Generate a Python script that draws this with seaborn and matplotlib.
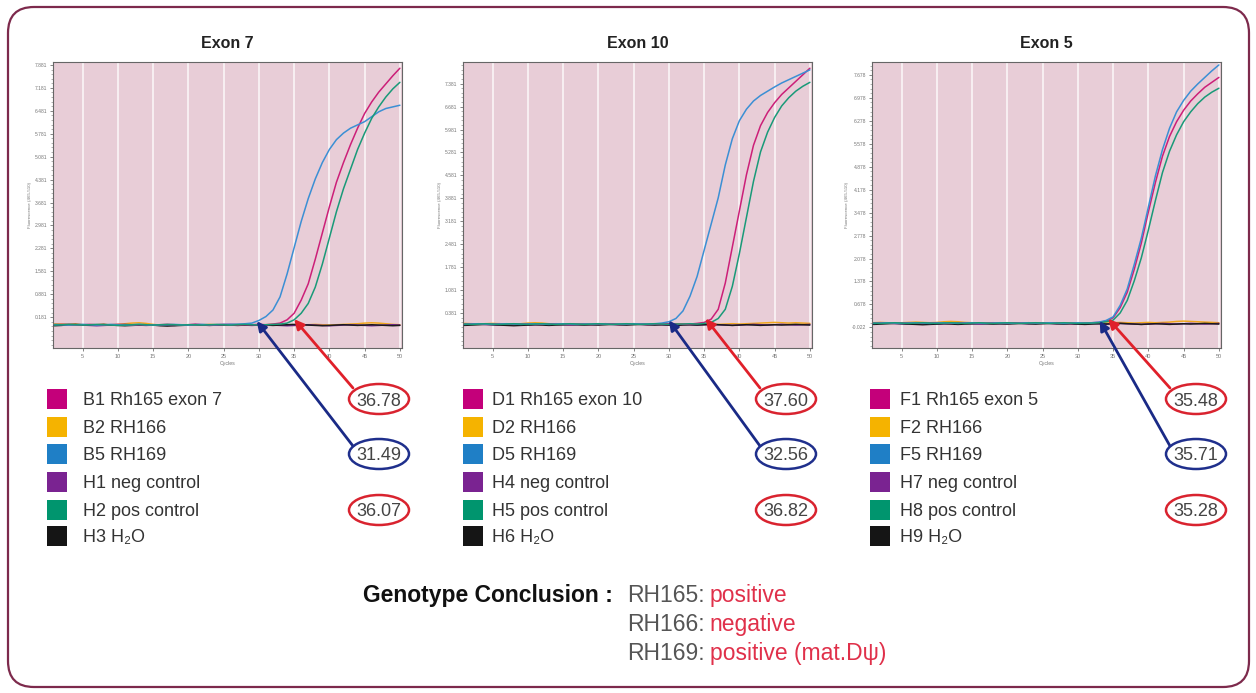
import numpy as np
import pandas as pd
import matplotlib
matplotlib.use("Agg")
import matplotlib.pyplot as plt
import seaborn as sns
from matplotlib.patches import Ellipse, FancyBboxPatch, Rectangle
from matplotlib.transforms import IdentityTransform
from matplotlib.ticker import AutoMinorLocator

# ---- data ----
cycles = list(range(1, 51))

# Exon 7
e7_b1 = [-0.05, -0.04, -0.05, -0.06, -0.05, -0.04, -0.05, -0.06, -0.05, -0.04, -0.05, -0.06, -0.05, -0.05,
         -0.06, -0.05, -0.04, -0.05, -0.06, -0.05, -0.04, -0.05, -0.06, -0.05, -0.04, -0.05, -0.06, -0.05,
         -0.05, -0.04, -0.05, -0.03,
         0.0, 0.1, 0.3, 0.7, 1.2, 1.95, 2.75, 3.55, 4.3, 4.9, 5.45, 5.95, 6.4, 6.75, 7.05, 7.3, 7.55, 7.78]
e7_b2 = [-0.02, -0.03, -0.04, -0.03, -0.05, -0.06, -0.05, -0.04, -0.05, -0.04, -0.02, 0.0, 0.01, -0.01,
         -0.04, -0.06, -0.07, -0.06, -0.05, -0.05, -0.06, -0.05, -0.04, -0.05, -0.06, -0.05, -0.04, -0.05,
         -0.06, -0.05, -0.05, -0.04, -0.05, -0.06, -0.07, -0.06, -0.05, -0.04, -0.05, -0.06, -0.05, -0.04,
         -0.03, -0.02, 0.0, 0.01, 0.0, -0.02, -0.04, -0.05]
e7_b5 = [-0.04, -0.05, -0.06, -0.05, -0.04, -0.05, -0.06, -0.05, -0.04, -0.05, -0.06, -0.05, -0.04, -0.05,
         -0.06, -0.05, -0.05, -0.04, -0.05, -0.06, -0.05, -0.04, -0.05, -0.05, -0.04, -0.04, -0.03, -0.02,
         0.0, 0.08, 0.2, 0.4, 0.8, 1.5, 2.3, 3.1, 3.8, 4.4, 4.9, 5.3, 5.6, 5.8, 5.95, 6.05, 6.15, 6.3,
         6.45, 6.55, 6.6, 6.65]
e7_h1 = [-0.06, -0.05, -0.04, -0.05, -0.06, -0.07, -0.08, -0.07, -0.06, -0.05, -0.04, -0.05, -0.06, -0.07,
         -0.06, -0.05, -0.06, -0.07, -0.06, -0.05, -0.04, -0.05, -0.05, -0.06, -0.05, -0.04, -0.05, -0.06,
         -0.07, -0.06, -0.05, -0.06, -0.07, -0.08, -0.07, -0.06, -0.05, -0.06, -0.07, -0.08, -0.07, -0.06,
         -0.05, -0.06, -0.07, -0.08, -0.07, -0.06, -0.05, -0.06]
e7_h2 = [-0.06, -0.05, -0.04, -0.05, -0.06, -0.05, -0.04, -0.05, -0.06, -0.07, -0.06, -0.05, -0.04, -0.05,
         -0.06, -0.05, -0.04, -0.05, -0.06, -0.05, -0.05, -0.06, -0.05, -0.04, -0.05, -0.06, -0.05, -0.04,
         -0.05, -0.06, -0.05, -0.04, -0.03,
         0.0, 0.1, 0.3, 0.6, 1.1, 1.8, 2.6, 3.4, 4.1, 4.7, 5.3, 5.8, 6.25, 6.6, 6.9, 7.15, 7.35]
e7_h3 = [-0.08, -0.07, -0.05, -0.04, -0.05, -0.06, -0.05, -0.04, -0.06, -0.07, -0.08, -0.07, -0.06, -0.05,
         -0.06, -0.08, -0.09, -0.08, -0.07, -0.06, -0.05, -0.06, -0.07, -0.06, -0.05, -0.06, -0.07, -0.06,
         -0.05, -0.05, -0.06, -0.07, -0.06, -0.05, -0.04, -0.05, -0.06, -0.07, -0.08, -0.07, -0.06, -0.05,
         -0.06, -0.07, -0.06, -0.05, -0.06, -0.07, -0.08, -0.07]

# Exon 10
e10_d1 = [0.05, 0.06, 0.05, 0.04, 0.05, 0.06, 0.05, 0.04, 0.05, 0.06, 0.05, 0.04, 0.05, 0.06, 0.05, 0.04,
          0.05, 0.05, 0.04, 0.05, 0.06, 0.05, 0.04, 0.05, 0.06, 0.05, 0.04, 0.05, 0.05, 0.06, 0.05, 0.04,
          0.05, 0.07,
          0.1, 0.2, 0.5, 1.3, 2.4, 3.5, 4.6, 5.5, 6.1, 6.5, 6.8, 7.05, 7.25, 7.45, 7.65, 7.85]
e10_d2 = [0.07, 0.06, 0.05, 0.06, 0.07, 0.06, 0.05, 0.04, 0.06, 0.08, 0.09, 0.08, 0.06, 0.05, 0.04, 0.03,
          0.04, 0.05, 0.04, 0.05, 0.06, 0.05, 0.04, 0.05, 0.06, 0.05, 0.04, 0.05, 0.04, 0.05, 0.06, 0.05,
          0.04, 0.05, 0.06, 0.05, 0.04, 0.05, 0.06, 0.05, 0.06, 0.07, 0.08, 0.09, 0.1, 0.09, 0.08, 0.09,
          0.08, 0.07]
e10_d5 = [0.04, 0.05, 0.06, 0.05, 0.04, 0.05, 0.06, 0.05, 0.04, 0.05, 0.06, 0.05, 0.04, 0.05, 0.06, 0.05,
          0.04, 0.05, 0.05, 0.06, 0.05, 0.04, 0.05, 0.05, 0.06, 0.05, 0.05, 0.06,
          0.08, 0.12, 0.22, 0.45, 0.9, 1.5, 2.3, 3.1, 3.9, 4.9, 5.7, 6.25, 6.6, 6.85, 7.02, 7.15, 7.28,
          7.4, 7.5, 7.6, 7.7, 7.8]
e10_h4 = [0.03, 0.04, 0.05, 0.04, 0.03, 0.02, 0.03, 0.04, 0.03, 0.02, 0.03, 0.04, 0.05, 0.04, 0.03, 0.02,
          0.03, 0.04, 0.03, 0.04, 0.05, 0.04, 0.03, 0.04, 0.05, 0.04, 0.03, 0.04, 0.03, 0.02, 0.03, 0.04,
          0.03, 0.02, 0.03, 0.04, 0.03, 0.02, 0.01, 0.02, 0.03, 0.04, 0.03, 0.02, 0.03, 0.04, 0.03, 0.02,
          0.03, 0.04]
e10_h5 = [0.05, 0.04, 0.05, 0.06, 0.05, 0.04, 0.05, 0.06, 0.05, 0.04, 0.05, 0.06, 0.05, 0.04, 0.05, 0.06,
          0.05, 0.04, 0.05, 0.06, 0.05, 0.04, 0.05, 0.06, 0.05, 0.04, 0.05, 0.06, 0.05, 0.04, 0.05, 0.05,
          0.06, 0.05, 0.07,
          0.1, 0.22, 0.5, 1.2, 2.2, 3.3, 4.4, 5.3, 5.9, 6.35, 6.7, 6.95, 7.15, 7.3, 7.42]
e10_h6 = [0.01, 0.02, 0.03, 0.04, 0.03, 0.02, 0.01, 0.0, 0.01, 0.02, 0.03, 0.02, 0.01, 0.02, 0.03, 0.04,
          0.03, 0.02, 0.03, 0.02, 0.03, 0.04, 0.03, 0.02, 0.03, 0.04, 0.03, 0.02, 0.03, 0.02, 0.01, 0.02,
          0.03, 0.02, 0.03, 0.04, 0.03, 0.02, 0.01, 0.02, 0.03, 0.02, 0.01, 0.02, 0.03, 0.02, 0.03, 0.04,
          0.03, 0.02]

# Exon 5
e5_f1 = [0.11, 0.12, 0.11, 0.10, 0.11, 0.12, 0.11, 0.10, 0.11, 0.12, 0.11, 0.10, 0.11, 0.12, 0.11, 0.10,
         0.11, 0.12, 0.11, 0.10, 0.11, 0.11, 0.12, 0.11, 0.10, 0.11, 0.12, 0.11, 0.10, 0.11, 0.11, 0.12,
         0.13, 0.17, 0.27, 0.58, 1.05, 1.75, 2.55, 3.5, 4.4, 5.2, 5.8, 6.25, 6.6, 6.88, 7.1, 7.3, 7.45, 7.6]
e5_f2 = [0.12, 0.13, 0.12, 0.11, 0.12, 0.13, 0.14, 0.13, 0.12, 0.13, 0.15, 0.16, 0.15, 0.13, 0.12, 0.11,
         0.10, 0.11, 0.12, 0.11, 0.10, 0.11, 0.12, 0.11, 0.12, 0.11, 0.10, 0.11, 0.12, 0.11, 0.10, 0.11,
         0.12, 0.11, 0.12, 0.13, 0.12, 0.11, 0.12, 0.13, 0.12, 0.13, 0.14, 0.16, 0.17, 0.16, 0.15, 0.14,
         0.13, 0.12]
e5_f5 = [0.10, 0.11, 0.12, 0.11, 0.10, 0.11, 0.12, 0.11, 0.10, 0.11, 0.12, 0.11, 0.10, 0.11, 0.12, 0.11,
         0.10, 0.11, 0.12, 0.11, 0.10, 0.11, 0.12, 0.11, 0.11, 0.12, 0.11, 0.10, 0.11, 0.12, 0.11, 0.12,
         0.14, 0.19, 0.3, 0.65, 1.15, 1.9, 2.7, 3.65, 4.6, 5.4, 6.05, 6.55, 6.9, 7.18, 7.4, 7.6, 7.8, 7.98]
e5_h7 = [0.09, 0.10, 0.11, 0.10, 0.09, 0.08, 0.09, 0.10, 0.09, 0.08, 0.09, 0.10, 0.11, 0.10, 0.09, 0.08,
         0.09, 0.10, 0.09, 0.10, 0.11, 0.10, 0.09, 0.10, 0.11, 0.10, 0.09, 0.10, 0.09, 0.08, 0.09, 0.10,
         0.09, 0.08, 0.09, 0.10, 0.09, 0.08, 0.07, 0.08, 0.09, 0.10, 0.09, 0.08, 0.09, 0.10, 0.09, 0.08,
         0.09, 0.10]
e5_h8 = [0.11, 0.10, 0.11, 0.12, 0.11, 0.10, 0.11, 0.12, 0.11, 0.10, 0.11, 0.12, 0.11, 0.10, 0.11, 0.12,
         0.11, 0.10, 0.11, 0.12, 0.11, 0.10, 0.11, 0.12, 0.11, 0.10, 0.11, 0.12, 0.11, 0.10, 0.11, 0.11,
         0.12,
         0.15, 0.2, 0.42, 0.8, 1.4, 2.1, 2.95, 3.85, 4.7, 5.35, 5.85, 6.25, 6.55, 6.8, 7.0, 7.15, 7.27]
e5_h9 = [0.07, 0.08, 0.09, 0.10, 0.09, 0.08, 0.07, 0.06, 0.07, 0.08, 0.09, 0.08, 0.07, 0.08, 0.09, 0.10,
         0.09, 0.08, 0.09, 0.08, 0.09, 0.10, 0.09, 0.08, 0.09, 0.10, 0.09, 0.08, 0.09, 0.08, 0.07, 0.08,
         0.09, 0.08, 0.09, 0.10, 0.09, 0.08, 0.07, 0.08, 0.09, 0.08, 0.07, 0.08, 0.09, 0.08, 0.09, 0.10,
         0.09, 0.08]

titles = ["Exon 7", "Exon 10", "Exon 5"]
labels = [
    ["B1 Rh165 exon 7", "B2 RH166", "B5 RH169", "H1 neg control", "H2 pos control", "H3 H\u2082O"],
    ["D1 Rh165 exon 10", "D2 RH166", "D5 RH169", "H4 neg control", "H5 pos control", "H6 H\u2082O"],
    ["F1 Rh165 exon 5", "F2 RH166", "F5 RH169", "H7 neg control", "H8 pos control", "H9 H\u2082O"],
]
series = [
    [e7_b1, e7_b2, e7_b5, e7_h1, e7_h2, e7_h3],
    [e10_d1, e10_d2, e10_d5, e10_h4, e10_h5, e10_h6],
    [e5_f1, e5_f2, e5_f5, e5_h7, e5_h8, e5_h9],
]
ct_rh165 = ["36.78", "37.60", "35.48"]
ct_rh169 = ["31.49", "32.56", "35.71"]
ct_pos = ["36.07", "36.82", "35.28"]

yticks = [
    [0.181, 0.881, 1.581, 2.281, 2.981, 3.681, 4.381, 5.081, 5.781, 6.481, 7.181, 7.881],
    [0.381, 1.081, 1.781, 2.481, 3.181, 3.881, 4.581, 5.281, 5.981, 6.681, 7.381],
    [-0.022, 0.678, 1.378, 2.078, 2.778, 3.478, 4.178, 4.878, 5.578, 6.278, 6.978, 7.678],
]
ylims = [(-0.76, 7.97), (-0.68, 8.04), (-0.65, 8.07)]
xticks = [5, 10, 15, 20, 25, 30, 35, 40, 45, 50]
# arrow tips (cycle, fluorescence) for the Ct call-outs: (RH165, RH169)
arrow_tips = [[(35.0, 0.12), (29.7, 0.06)],
              [(35.2, 0.22), (30.0, 0.16)],
              [(34.3, 0.24), (33.1, 0.18)]]

colors = ["#cc1f78", "#f0a81e", "#3b8fd4", "#6d2590", "#199a78", "#1c1c1c"]
box_colors = ["#c4007a", "#f5b300", "#1f7fc6", "#7a2391", "#00956e", "#151515"]

conclusion = [("RH165:", "positive"), ("RH166:", "negative"), ("RH169:", "positive (mat.D\u03c8)")]

# ---- figure ----
sns.set_theme(style="white")
plt.rcParams["font.family"] = ["Liberation Sans", "DejaVu Sans"]

W, H = 1256, 693
fig = plt.figure(figsize=(W / 100, H / 100), dpi=100)
fig.patch.set_facecolor("white")

# rounded frame
frame = FancyBboxPatch((8, 6), 1241, 680, boxstyle="round,pad=0,rounding_size=26",
                       fill=False, edgecolor="#7d2a4c", linewidth=1.6,
                       transform=IdentityTransform())
fig.add_artist(frame)

ax_left = [53, 463, 872]
ax_w, ax_top, ax_bot = 349, 62, 348
sq_left = [47, 463, 870]
txt_left = [83, 492, 900]
ell_x = [379, 786, 1196]
rows_y = [399, 427, 454, 482, 510, 536]


def fx(px):
    return px / W


def fy(py):
    return 1 - py / H


for i in range(3):
    ax = fig.add_axes([fx(ax_left[i]), fy(ax_bot), ax_w / W, (ax_bot - ax_top) / H])
    ax.set_facecolor("#e8cdd7")
    frames = []
    order = [1, 3, 5, 0, 2, 4]
    for k in order:
        frames.append(pd.DataFrame({"cycle": cycles, "fluor": series[i][k], "sample": labels[i][k]}))
    df = pd.concat(frames, ignore_index=True)
    sns.lineplot(data=df, x="cycle", y="fluor", hue="sample",
                 hue_order=[labels[i][k] for k in order],
                 palette={labels[i][k]: colors[k] for k in range(6)},
                 linewidth=1.1, legend=False, ax=ax, zorder=3)
    ax.set_xlim(0.8, 50.3)
    ax.set_ylim(*ylims[i])
    ax.set_xticks(xticks)
    ax.set_xticklabels([str(t) for t in xticks], fontsize=4, color="#666")
    ax.set_yticks(yticks[i])
    ax.set_yticklabels(["%.3f" % t for t in yticks[i]], fontsize=3.6, color="#666")
    ax.yaxis.set_minor_locator(AutoMinorLocator(5))
    ax.tick_params(axis="both", which="major", length=2, width=0.5, pad=2, colors="#555",
                   left=True, bottom=True)
    ax.tick_params(axis="y", which="minor", length=1.2, width=0.4, left=True, colors="#777")
    for lab in ax.get_xticklabels() + ax.get_yticklabels():
        lab.set_color("#777")
    ax.grid(axis="x", color="white", linewidth=1.2, alpha=0.8, zorder=1)
    ax.set_axisbelow(True)
    for sp in ax.spines.values():
        sp.set_color("#666")
        sp.set_linewidth(0.8)
    ax.set_xlabel("Cycles", fontsize=3.8, color="#777", labelpad=2)
    ax.set_ylabel("Fluorescence (465-510)", fontsize=3.2, color="#777", labelpad=2)
    ax.set_title(titles[i], fontsize=11.5, fontweight="bold", color="#222", pad=10)

    # legend squares + labels
    for k in range(6):
        fig.add_artist(Rectangle((sq_left[i], H - rows_y[k] - 10), 20, 20, facecolor=box_colors[k],
                                 edgecolor="none", transform=IdentityTransform()))
        fig.text(fx(txt_left[i]), fy(rows_y[k] + 6), labels[i][k], fontsize=13, color="#333",
                 va="baseline", ha="left")

    # Ct ellipses
    for val, row, col in [(ct_rh165[i], 0, "#d9232f"), (ct_rh169[i], 2, "#1f2f8c"),
                          (ct_pos[i], 4, "#d9232f")]:
        fig.add_artist(Ellipse((ell_x[i], H - rows_y[row]), 60, 30, fill=False, edgecolor=col,
                               linewidth=1.8, transform=IdentityTransform()))
        fig.text(fx(ell_x[i]), fy(rows_y[row] + 6.5), val, fontsize=13, color="#444",
                 ha="center", va="baseline")

    # arrows from ellipses to curves
    red_tip, blue_tip = arrow_tips[i]
    ax.annotate("", xy=red_tip, xycoords="data",
                xytext=(ell_x[i] - 26, H - rows_y[0] + 11), textcoords="figure pixels",
                arrowprops=dict(arrowstyle="-|>", color="#e0202a", lw=2, mutation_scale=14,
                                shrinkA=0, shrinkB=0),
                annotation_clip=False, zorder=6)
    ax.annotate("", xy=blue_tip, xycoords="data",
                xytext=(ell_x[i] - 26, H - rows_y[2] + 8), textcoords="figure pixels",
                arrowprops=dict(arrowstyle="-|>", color="#1a2a86", lw=2, mutation_scale=14,
                                shrinkA=0, shrinkB=0),
                annotation_clip=False, zorder=6)

# genotype conclusion
fig.text(fx(363), fy(602), "Genotype Conclusion :", fontsize=16.5, fontweight="bold",
         color="#111", ha="left", va="baseline")
fig.canvas.draw()
for r, (gene, call) in enumerate(conclusion):
    y = fy(602 + 29 * r)
    t = fig.text(fx(627), y, gene, fontsize=16.5, color="#555", ha="left", va="baseline")
    bb = t.get_window_extent(renderer=fig.canvas.get_renderer())
    fig.text((bb.x1 + 5) / W, y, call, fontsize=16.5, color="#e0304a", ha="left", va="baseline")

fig.savefig("out.png", dpi=100, facecolor="white")
